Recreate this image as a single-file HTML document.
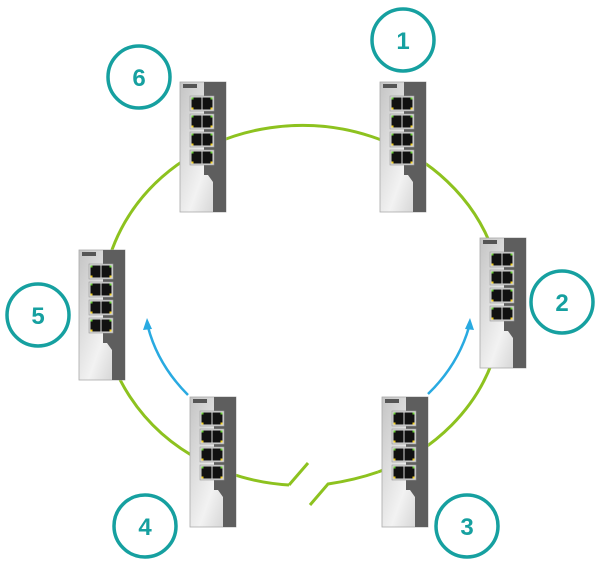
<!DOCTYPE html>
<html><head><style>html,body{margin:0;padding:0;background:#fff}svg{display:block}</style></head>
<body>
<svg width="600" height="572" viewBox="0 0 600 572" xmlns="http://www.w3.org/2000/svg">
<defs>
<linearGradient id="bg" x1="0" y1="0" x2="1" y2="1">
<stop offset="0" stop-color="#c4c4c4"/><stop offset="0.6" stop-color="#f2f2f2"/><stop offset="1" stop-color="#c8c8c8"/>
</linearGradient>
<g id="sw">
<rect x="0" y="0" width="46" height="130" fill="url(#bg)" stroke="#aaa" stroke-width="0.8"/>
<path d="M24 0 H46 V130 H33 V100 L28 93 H24 Z" fill="#5e5e5e"/>
<rect x="3" y="2" width="14" height="4" fill="#555"/>
<g fill="#d8d8d8" stroke="#999" stroke-width="0.6">
<rect x="10" y="14" width="24" height="15"/>
<rect x="10" y="32" width="24" height="15"/>
<rect x="10" y="50" width="24" height="15"/>
<rect x="10" y="68" width="24" height="15"/>
</g>
<g fill="#111">
<rect x="11.5" y="15.5" width="10" height="12"/><rect x="22.5" y="15.5" width="10" height="12"/>
<rect x="11.5" y="33.5" width="10" height="12"/><rect x="22.5" y="33.5" width="10" height="12"/>
<rect x="11.5" y="51.5" width="10" height="12"/><rect x="22.5" y="51.5" width="10" height="12"/>
<rect x="11.5" y="69.5" width="10" height="12"/><rect x="22.5" y="69.5" width="10" height="12"/>
</g>
<g fill="#6c3">
<rect x="11.5" y="15.5" width="2" height="2"/><rect x="30.5" y="15.5" width="2" height="2"/>
<rect x="11.5" y="33.5" width="2" height="2"/><rect x="30.5" y="33.5" width="2" height="2"/>
<rect x="11.5" y="51.5" width="2" height="2"/><rect x="30.5" y="51.5" width="2" height="2"/>
<rect x="11.5" y="69.5" width="2" height="2"/><rect x="30.5" y="69.5" width="2" height="2"/>
</g>
<g fill="#ec2">
<rect x="11.5" y="25.5" width="2" height="2"/><rect x="30.5" y="25.5" width="2" height="2"/>
<rect x="11.5" y="43.5" width="2" height="2"/><rect x="30.5" y="43.5" width="2" height="2"/>
<rect x="11.5" y="61.5" width="2" height="2"/><rect x="30.5" y="61.5" width="2" height="2"/>
<rect x="11.5" y="79.5" width="2" height="2"/><rect x="30.5" y="79.5" width="2" height="2"/>
</g>
</g>
</defs>
<g fill="none" stroke="#8dc21f" stroke-width="3">
<path d="M289 485 A200 180 0 1 1 378 472"/>
<path d="M289 485 L308 463"/>
<path d="M310 505 L328 484 Q355 480 378 472"/>
</g>
<g fill="none" stroke="#29aae1" stroke-width="2.5">
<path d="M188 395 Q158 365 148 327"/>
<path d="M428 394 Q458 365 469 327"/>
</g>
<path d="M147 318 L143 330 L152 329 Z" fill="#29aae1"/>
<path d="M470 318 L465 329 L474 330 Z" fill="#29aae1"/>
<use href="#sw" x="380" y="82"/>
<use href="#sw" x="180" y="82"/>
<use href="#sw" x="480" y="238"/>
<use href="#sw" x="79" y="250"/>
<use href="#sw" x="190" y="397"/>
<use href="#sw" x="382" y="397"/>
<g fill="#fff" stroke="#16a0a0" stroke-width="3.5">
<circle cx="403" cy="40" r="31"/>
<circle cx="139" cy="77" r="31"/>
<circle cx="562" cy="302" r="31"/>
<circle cx="38" cy="315" r="31"/>
<circle cx="145" cy="526" r="31"/>
<circle cx="467" cy="526" r="31"/>
</g>
<g fill="#16a0a0" font-family="Liberation Sans, sans-serif" font-weight="bold" font-size="24" text-anchor="middle">
<text x="403" y="49">1</text>
<text x="139" y="86">6</text>
<text x="562" y="311">2</text>
<text x="38" y="324">5</text>
<text x="145" y="535">4</text>
<text x="467" y="535">3</text>
</g>
</svg>
</body></html>
